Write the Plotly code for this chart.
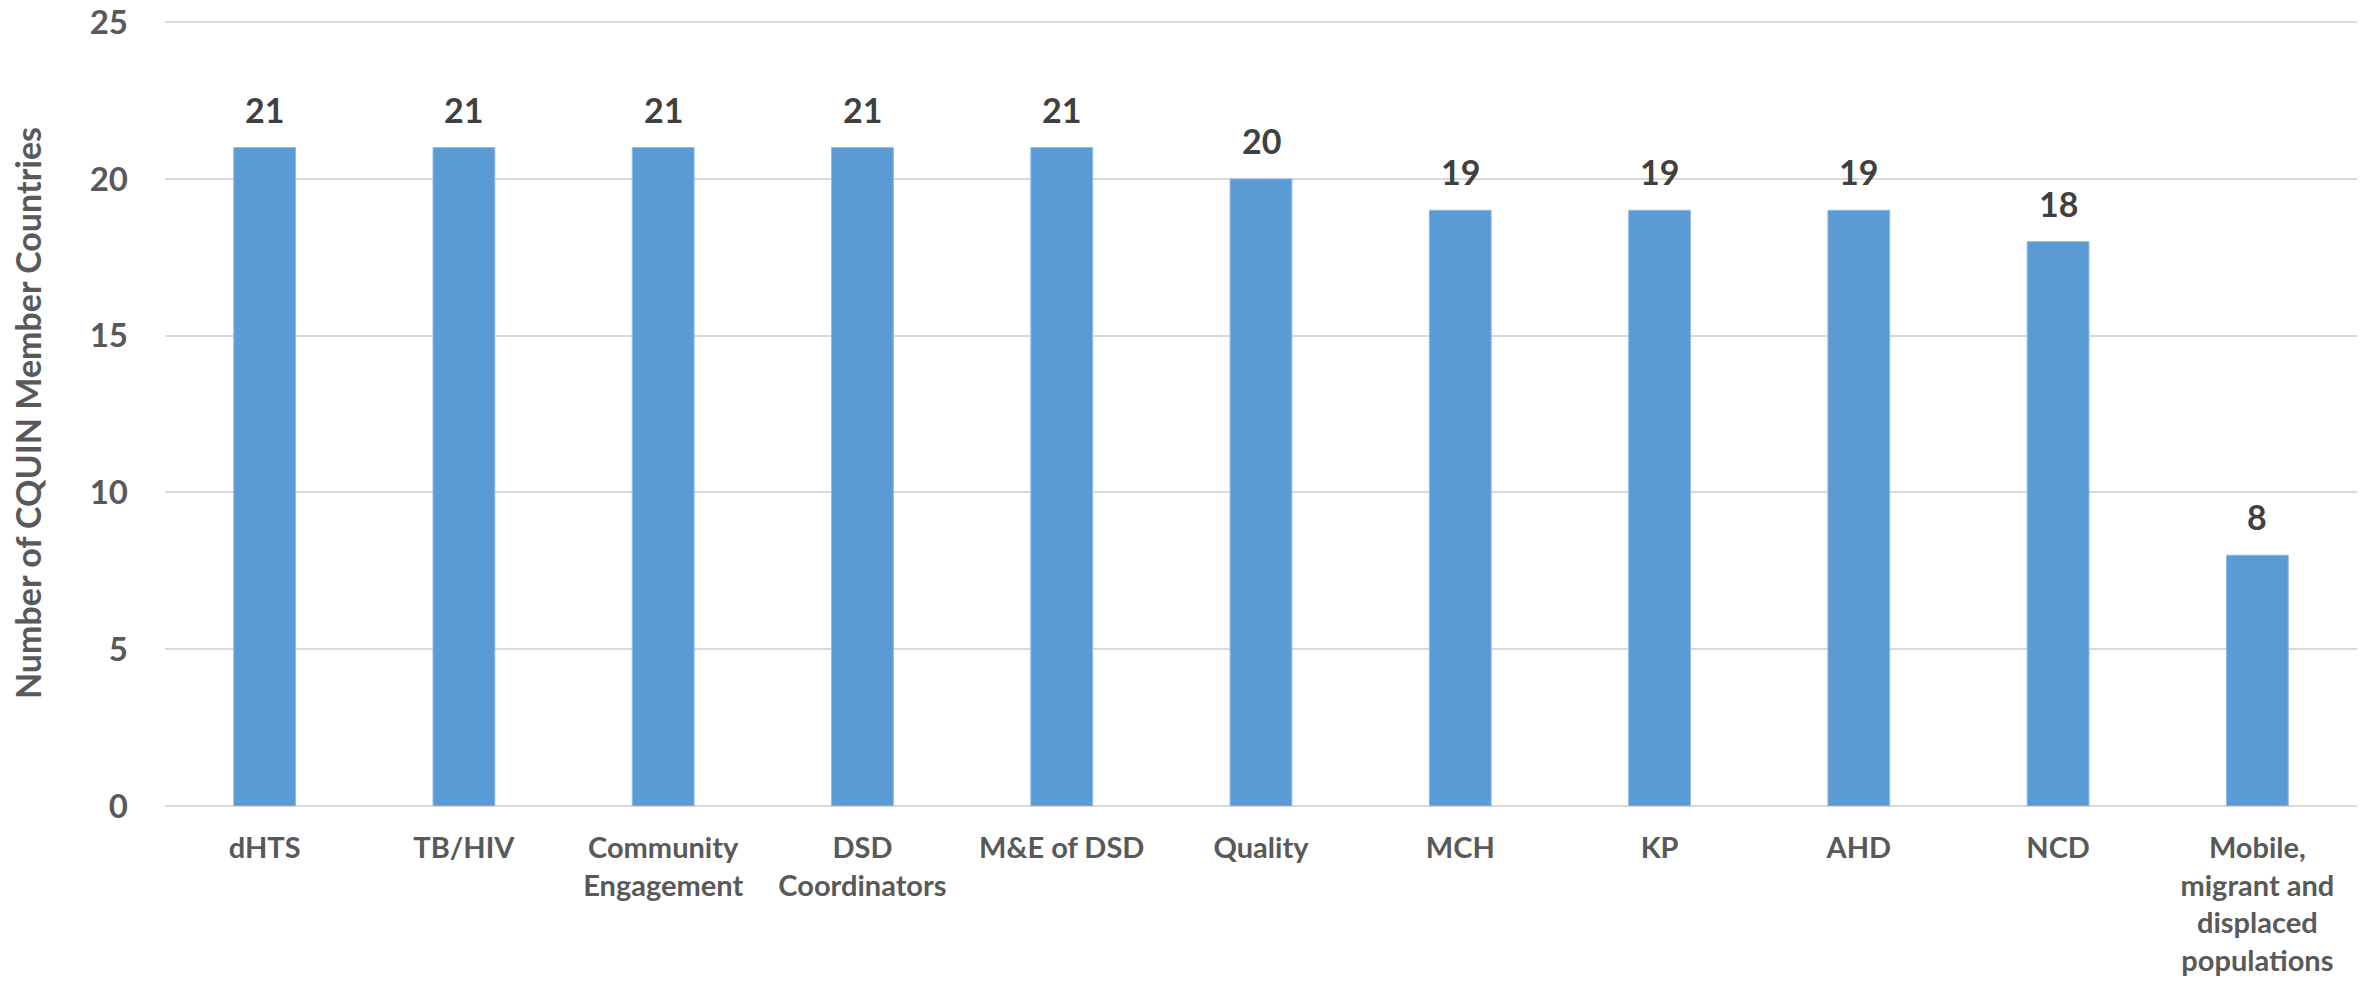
import plotly.graph_objects as go

categories = ["dHTS", "TB/HIV", "Community<br>Engagement", "DSD<br>Coordinators",
              "M&E of DSD", "Quality", "MCH", "KP", "AHD", "NCD",
              "Mobile,<br>migrant and<br>displaced<br>populations"]
values = [21, 21, 21, 21, 21, 20, 19, 19, 19, 18, 8]
y_ticks = [0, 5, 10, 15, 20, 25]

FONT = "Lato"

fig = go.Figure()
fig.add_trace(go.Bar(
    x=categories, y=values,
    marker=dict(color="#5B9BD5", line=dict(color="#8DB8E6", width=1)),
    width=0.31,
))

for c, v in zip(categories, values):
    fig.add_annotation(x=c, y=v, text=f"<b>{v}</b>", showarrow=False,
                       yanchor="bottom", yshift=16,
                       font=dict(family=FONT, size=34, color="#404040"))

fig.update_layout(
    width=2364, height=982,
    margin=dict(l=165, r=7, t=20, b=176),
    plot_bgcolor="white", paper_bgcolor="white",
    showlegend=False,
    font=dict(family=FONT),
)
fig.update_xaxes(
    automargin=False,
    tickfont=dict(family=FONT, size=29, color="#595959", weight="bold"),
    ticks="outside", ticklen=16, tickcolor="rgba(0,0,0,0)",
    showgrid=False, showline=False,
)
fig.update_yaxes(
    automargin=False,
    range=[0, 25.07], tickvals=y_ticks,
    tickfont=dict(family=FONT, size=33, color="#595959", weight="bold"),
    ticklabelstandoff=36,
    showgrid=True, gridcolor="#D9D9D9", gridwidth=2,
    zeroline=True, zerolinecolor="#D9D9D9", zerolinewidth=2,
    showline=False,
    title=dict(text="Number of CQUIN Member Countries", standoff=37,
               font=dict(family=FONT, size=34, color="#595959", weight="bold")),
)

fig.write_html("out.html")
